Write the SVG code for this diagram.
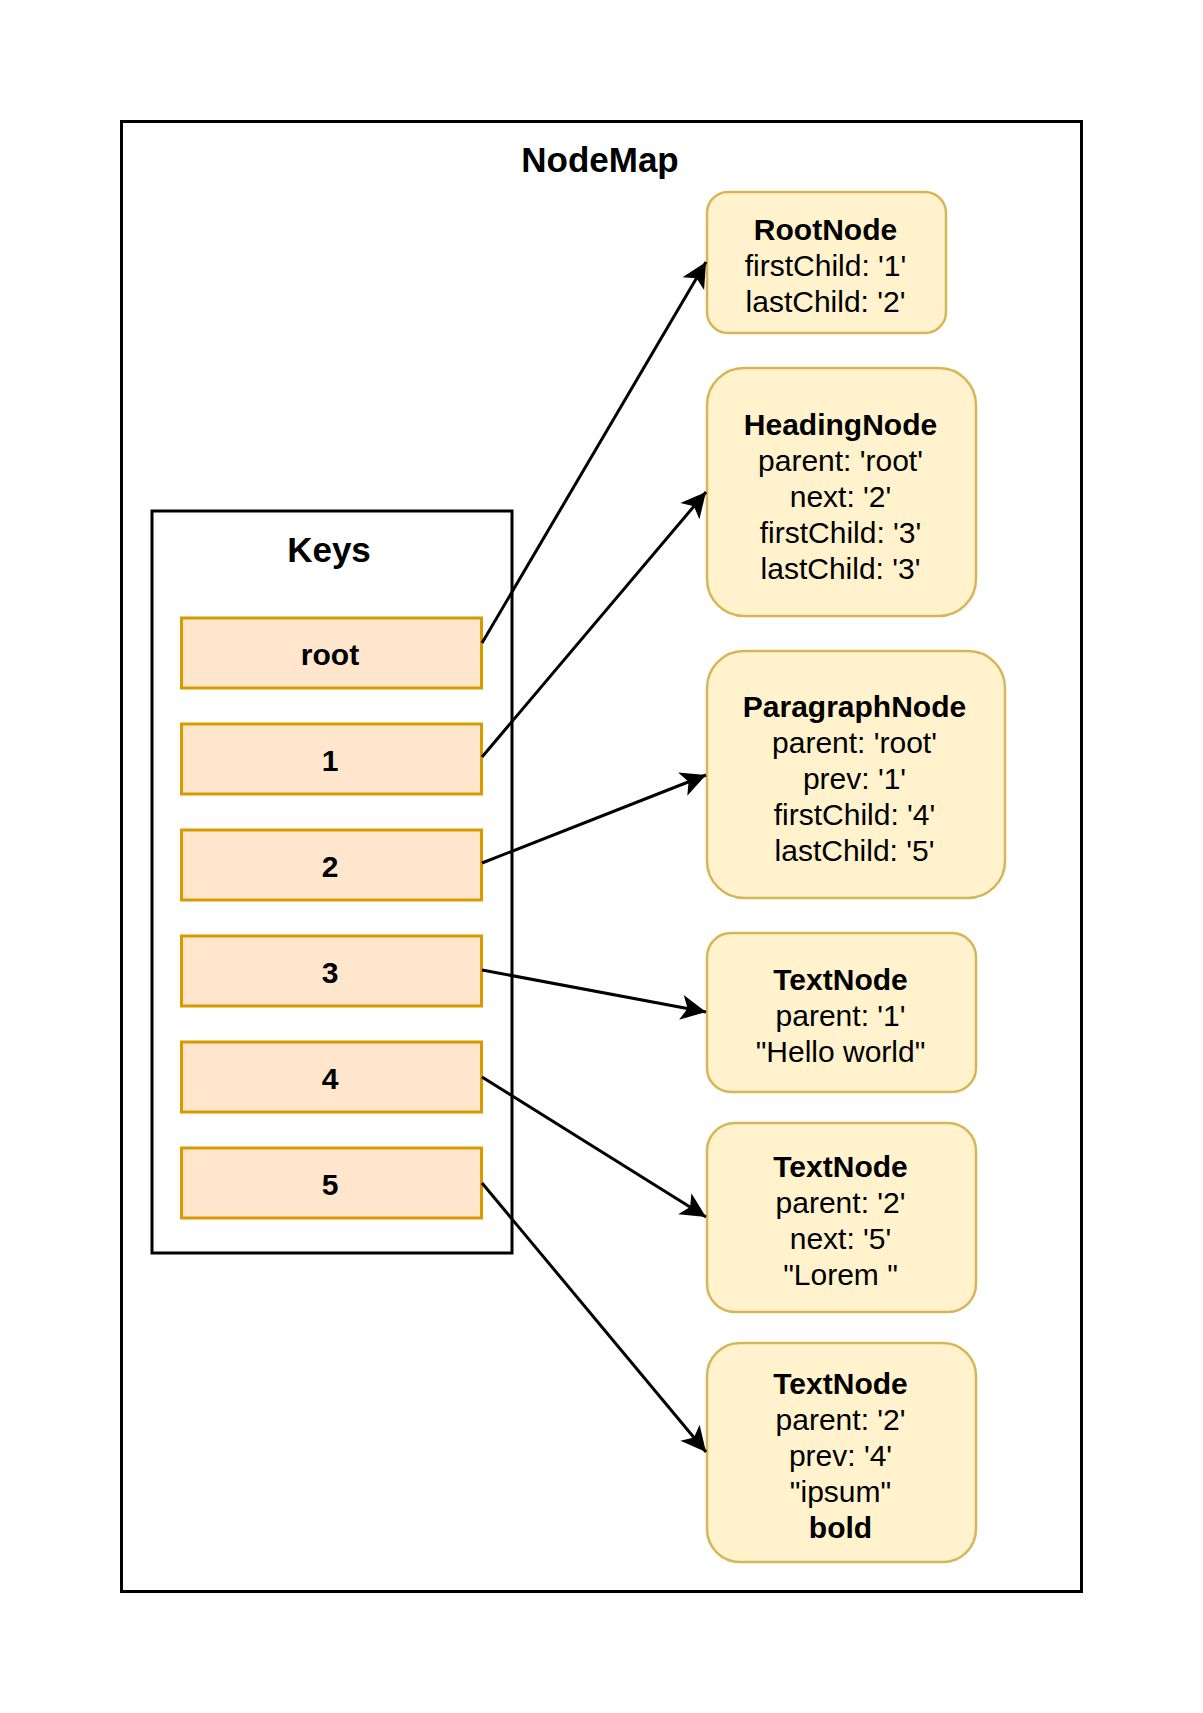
<svg xmlns="http://www.w3.org/2000/svg" width="1203" height="1713" viewBox="0 0 1203 1713">
<style>
.frame{fill:#ffffff;stroke:#000000;stroke-width:3}
.key{fill:#ffe6cc;stroke:#d79b00;stroke-width:3}
.node{fill:#fff2cc;stroke:#d6b656;stroke-width:2.5}
.edge{fill:none;stroke:#000000;stroke-width:3}
text{font-family:"Liberation Sans",Arial,Helvetica,sans-serif;fill:#000000;text-anchor:middle}
.title{font-size:35px;font-weight:bold}
.t{font-size:30px}
.b{font-size:30px;font-weight:bold}
</style>
<defs>
<marker id="arrow" markerUnits="userSpaceOnUse" markerWidth="30" markerHeight="30" refX="25" refY="12.5" orient="auto" overflow="visible">
<path d="M0,0 L25,12.5 L0,25 L6.25,12.5 Z" fill="#000000"/>
</marker>
</defs>
<rect width="1203" height="1713" fill="#ffffff"/>
<g id="nodemap">
<rect class="frame" x="121.5" y="121.5" width="960" height="1470"/>
<text class="title" x="600" y="172">NodeMap</text>
</g>
<g id="keys">
<rect class="frame" x="152" y="511" width="360" height="742"/>
<text class="title" x="329" y="562">Keys</text>
</g>
<g id="key-root"><rect class="key" x="181.5" y="618" width="300" height="70"/><text class="b" x="330" y="665">root</text></g>
<g id="key-1"><rect class="key" x="181.5" y="724" width="300" height="70"/><text class="b" x="330" y="771">1</text></g>
<g id="key-2"><rect class="key" x="181.5" y="830" width="300" height="70"/><text class="b" x="330" y="877">2</text></g>
<g id="key-3"><rect class="key" x="181.5" y="936" width="300" height="70"/><text class="b" x="330" y="983">3</text></g>
<g id="key-4"><rect class="key" x="181.5" y="1042" width="300" height="70"/><text class="b" x="330" y="1089">4</text></g>
<g id="key-5"><rect class="key" x="181.5" y="1148" width="300" height="70"/><text class="b" x="330" y="1195">5</text></g>
<g id="rootnode">
<rect class="node" x="707" y="192" width="239" height="141" rx="21" ry="21"/>
<text class="b" x="825.5" y="240">RootNode</text>
<text class="t" x="825.5" y="276">firstChild: '1'</text>
<text class="t" x="825.5" y="312">lastChild: '2'</text>
</g>
<g id="headingnode">
<rect class="node" x="707" y="368" width="269" height="248" rx="37" ry="37"/>
<text class="b" x="840.5" y="435">HeadingNode</text>
<text class="t" x="840.5" y="471">parent: 'root'</text>
<text class="t" x="840.5" y="507">next: '2'</text>
<text class="t" x="840.5" y="543">firstChild: '3'</text>
<text class="t" x="840.5" y="579">lastChild: '3'</text>
</g>
<g id="paragraphnode">
<rect class="node" x="707" y="651" width="298" height="247" rx="37" ry="37"/>
<text class="b" x="854.5" y="717">ParagraphNode</text>
<text class="t" x="854.5" y="753">parent: 'root'</text>
<text class="t" x="854.5" y="789">prev: '1'</text>
<text class="t" x="854.5" y="825">firstChild: '4'</text>
<text class="t" x="854.5" y="861">lastChild: '5'</text>
</g>
<g id="textnode-3">
<rect class="node" x="707" y="933" width="269" height="159" rx="24" ry="24"/>
<text class="b" x="840.5" y="990">TextNode</text>
<text class="t" x="840.5" y="1026">parent: '1'</text>
<text class="t" x="840.5" y="1062">"Hello world"</text>
</g>
<g id="textnode-4">
<rect class="node" x="707" y="1123" width="269" height="189" rx="28" ry="28"/>
<text class="b" x="840.5" y="1177">TextNode</text>
<text class="t" x="840.5" y="1213">parent: '2'</text>
<text class="t" x="840.5" y="1249">next: '5'</text>
<text class="t" x="840.5" y="1285" xml:space="preserve">"Lorem "</text>
</g>
<g id="textnode-5">
<rect class="node" x="707" y="1343" width="269" height="219" rx="33" ry="33"/>
<text class="b" x="840.5" y="1394">TextNode</text>
<text class="t" x="840.5" y="1430">parent: '2'</text>
<text class="t" x="840.5" y="1466">prev: '4'</text>
<text class="t" x="840.5" y="1502">"ipsum"</text>
<text class="b" x="840.5" y="1538">bold</text>
</g>
<g id="connectors">
<line class="edge" x1="482" y1="643" x2="706" y2="262" marker-end="url(#arrow)"/>
<line class="edge" x1="482" y1="757" x2="706" y2="492" marker-end="url(#arrow)"/>
<line class="edge" x1="482" y1="863" x2="706" y2="775" marker-end="url(#arrow)"/>
<line class="edge" x1="482" y1="970" x2="706" y2="1012" marker-end="url(#arrow)"/>
<line class="edge" x1="482" y1="1077" x2="706" y2="1217" marker-end="url(#arrow)"/>
<line class="edge" x1="482" y1="1183" x2="706" y2="1452" marker-end="url(#arrow)"/>
</g>
</svg>
